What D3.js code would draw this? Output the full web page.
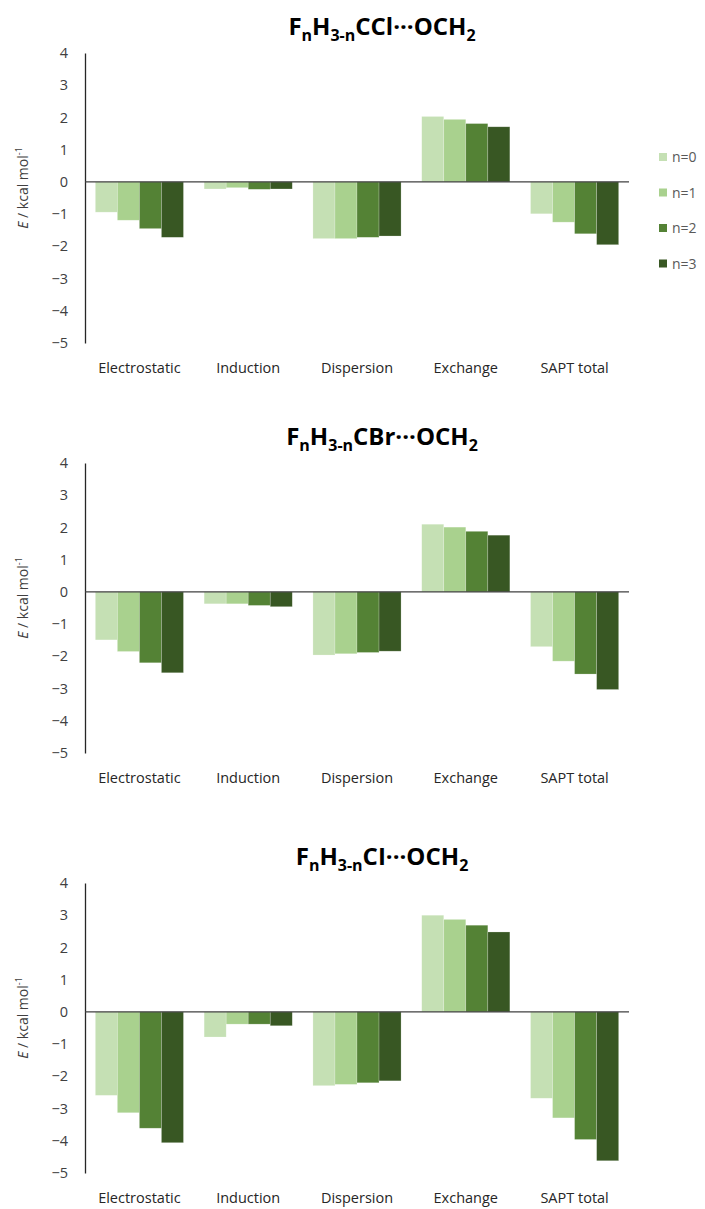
<!DOCTYPE html>
<html>
<head>
<meta charset="utf-8">
<script src="https://cdn.jsdelivr.net/npm/d3@7"></script>
<style>
  body { margin: 0; background: #fff; }
  svg { font-family: "Open Sans", "Noto Sans", sans-serif; }
</style>
</head>
<body>
<div id="chart"></div>
<script>
var categories = ["Electrostatic", "Induction", "Dispersion", "Exchange", "SAPT total"];
var seriesNames = ["n=0", "n=1", "n=2", "n=3"];
var colors = ["#c5e0b4", "#a9d18e", "#548235", "#385723"];
var yTicks = [4, 3, 2, 1, 0, -1, -2, -3, -4, -5];

// one row per series (n=0..3), one value per category
var cclValues = [
  [-0.94, -0.22, -1.76, 2.03, -0.99],
  [-1.19, -0.18, -1.76, 1.94, -1.25],
  [-1.45, -0.23, -1.72, 1.81, -1.61],
  [-1.72, -0.22, -1.68, 1.71, -1.95]
];
var cbrValues = [
  [-1.49, -0.37, -1.96, 2.10, -1.70],
  [-1.85, -0.37, -1.92, 2.01, -2.15],
  [-2.20, -0.42, -1.88, 1.88, -2.55],
  [-2.51, -0.46, -1.84, 1.76, -3.03]
];
var ciValues = [
  [-2.59, -0.78, -2.29, 3.00, -2.68],
  [-3.13, -0.38, -2.25, 2.87, -3.29],
  [-3.61, -0.38, -2.20, 2.69, -3.96],
  [-4.06, -0.43, -2.14, 2.48, -4.62]
];
var titles = ["CCl", "CBr", "CI"];

var width = 705, height = 1209;
var svg = d3.select("#chart").append("svg").attr("width", width).attr("height", height);

var x = d3.scaleBand().domain(categories).range([85, 629]).paddingInner(0.19).paddingOuter(0.095);
var xs = d3.scaleBand().domain(seriesNames).range([0, x.bandwidth()]);

function drawPanel(values, halogen, top) {
  var g = svg.append("g").attr("transform", "translate(0," + top + ")");
  var y = d3.scaleLinear().domain([-5, 4]).range([290, 0]);

  // title
  var t = g.append("text").attr("x", 382).attr("y", -18).attr("text-anchor", "middle")
    .attr("font-size", 24).attr("font-weight", "bold").attr("fill", "#000");
  t.append("tspan").text("F");
  t.append("tspan").attr("font-size", 16).attr("dy", 6).text("n");
  t.append("tspan").attr("dy", -6).text("H");
  t.append("tspan").attr("font-size", 16).attr("dy", 6).text("3-n");
  t.append("tspan").attr("dy", -6).text(halogen + "\u00b7\u00b7\u00b7OCH");
  t.append("tspan").attr("font-size", 16).attr("dy", 6).text("2");

  // bars
  var rows = [];
  values.forEach(function (row, si) {
    row.forEach(function (v, ci) {
      rows.push({ s: seriesNames[si], c: categories[ci], v: v, i: si });
    });
  });
  g.selectAll("rect").data(rows).enter().append("rect")
    .attr("x", function (d) { return x(d.c) + xs(d.s); })
    .attr("width", xs.bandwidth())
    .attr("y", function (d) { return y(Math.max(0, d.v)); })
    .attr("height", function (d) { return Math.abs(y(d.v) - y(0)); })
    .attr("fill", function (d) { return colors[d.i]; })
    .attr("stroke", "#ffffff").attr("stroke-opacity", 0.35).attr("stroke-width", 0.6);

  // y axis
  var ax = g.append("g").attr("transform", "translate(85,0)")
    .call(d3.axisLeft(y).tickValues(yTicks).tickSize(0).tickPadding(17).tickFormat(d3.format("d")));
  ax.select(".domain").attr("stroke", "#262626").attr("stroke-width", 1.3);
  ax.selectAll("text").attr("font-size", 14.5).attr("fill", "#404040")
    .attr("font-family", "\"Open Sans\", \"Noto Sans\", sans-serif");

  // zero line
  g.append("line").attr("x1", 85).attr("x2", 629).attr("y1", y(0)).attr("y2", y(0))
    .attr("stroke", "#404040").attr("stroke-width", 1.2);

  // category labels
  g.selectAll(".cat").data(categories).enter().append("text")
    .attr("x", function (d) { return x(d) + x.bandwidth() / 2; })
    .attr("y", 320).attr("text-anchor", "middle")
    .attr("font-size", 14.5).attr("fill", "#262626").text(function (d) { return d; });

  // y axis title
  var yt = g.append("text").attr("transform", "translate(28,135) rotate(-90)")
    .attr("text-anchor", "middle").attr("font-size", 14).attr("fill", "#404040");
  yt.append("tspan").attr("font-style", "italic").text("E");
  yt.append("tspan").text(" / kcal mol");
  yt.append("tspan").attr("font-size", 9).attr("dy", -6).text("-1");
}

var tops = [53, 463, 883];
drawPanel(cclValues, titles[0], tops[0]);
drawPanel(cbrValues, titles[1], tops[1]);
drawPanel(ciValues, titles[2], tops[2]);

// legend (first panel only)
var lg = svg.append("g");
seriesNames.forEach(function (s, i) {
  var yy = 157 + i * 35.5;
  lg.append("rect").attr("x", 659).attr("y", yy - 4).attr("width", 8).attr("height", 8).attr("fill", colors[i]);
  lg.append("text").attr("x", 672).attr("y", yy + 5).attr("font-size", 14).attr("fill", "#595959").text(s);
});
</script>
</body>
</html>
